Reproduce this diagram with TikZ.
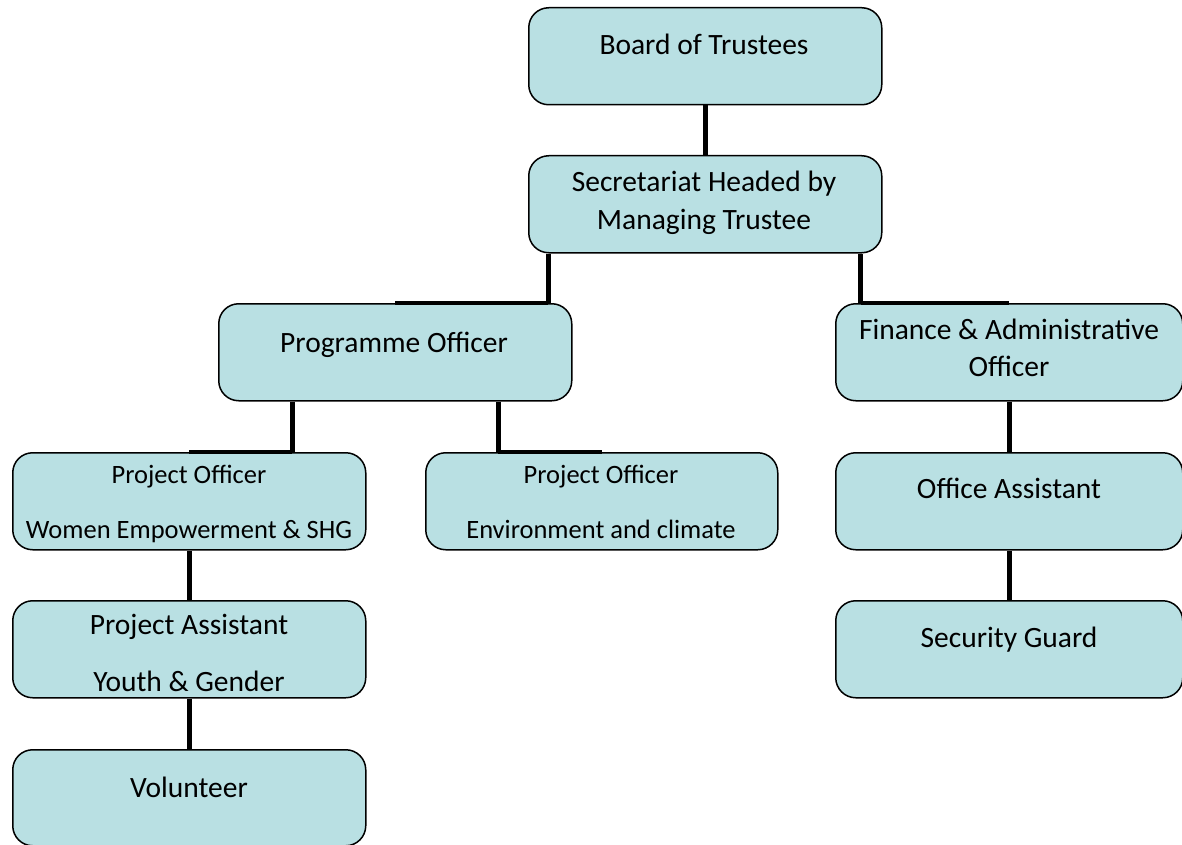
\documentclass[tikz,border=0pt]{standalone}
\usepackage{fontspec}
\setmainfont{Carlito}
\begin{document}
\begin{tikzpicture}[x=1pt,y=-1pt,
  box/.style={draw=black,line width=1.5pt,fill=boxfill,rounded corners=20pt,minimum width=353pt,minimum height=97pt,inner sep=0pt,anchor=north west},
  big/.style={font=\fontsize{29.5}{34}\selectfont,inner sep=0pt,text height=0.68em,text depth=0.2em,yshift=-7pt},
  small/.style={font=\fontsize{26.5}{31}\selectfont,inner sep=0pt,text height=0.68em,text depth=0.2em,yshift=-6pt},
  vconn/.style={line width=5pt},
  hconn/.style={line width=3.5pt}]
\definecolor{boxfill}{RGB}{185,224,227}
\useasboundingbox (0,0) rectangle (1182,845);
% boxes
\node[box] (board) at (528,7) {};
\node[box] (sec) at (528,155) {};
\node[box] (prog) at (218,303) {};
\node[box,minimum width=347pt] (fin) at (835,303) {};
\node[box] (po1) at (12,452) {};
\node[box,minimum width=352pt] (po2) at (425,452) {};
\node[box,minimum width=347pt] (office) at (835,452) {};
\node[box,minimum width=347pt] (guard) at (835,600) {};
\node[box] (pa) at (12,600) {};
\node[box,minimum height=96pt] (vol) at (12,749) {};
% texts
\node[big] (tboard) at (704,45) {Board of Trustees};
\node[big] (tsec1) at (704,182) {Secretariat Headed by};
\node[big] (tsec2) at (704,220) {Managing Trustee};
\node[big] (tprog) at (394,343) {Programme Officer};
\node[big] (tfin1) at (1009,330) {Finance \& Administrative};
\node[big] (tfin2) at (1009,367) {Officer};
\node[small] (tpo1a) at (189,475) {Project Officer};
\node[small] (tpo1b) at (189,530) {Women Empowerment \& SHG};
\node[small] (tpo2a) at (601,475) {Project Officer};
\node[small] (tpo2b) at (601,530) {Environment and climate};
\node[big] (toffice) at (1009,489) {Office Assistant};
\node[big] (tguard) at (1009,638) {Security Guard};
\node[big] (tpa1) at (189,625) {Project Assistant};
\node[big] (tpa2) at (189,682) {Youth \& Gender};
\node[big] (tvol) at (189,788) {Volunteer};
% connectors
\draw[vconn] (board.south) -- (sec.north);
\coordinate (c1) at ([xshift=20pt]sec.south west);
\coordinate (c2) at ([xshift=-22pt]sec.south east);
\draw[vconn] (c1) -- (c1 |- prog.north);
\draw[hconn] (c1 |- prog.north) -- (prog.north);
\draw[vconn] (c2) -- (c2 |- fin.north);
\draw[hconn] (c2 |- fin.north) -- (fin.north);
\coordinate (c3) at ([xshift=74pt]prog.south west);
\coordinate (c4) at ([xshift=280pt]prog.south west);
\draw[vconn] (c3) -- (c3 |- po1.north);
\draw[hconn] (c3 |- po1.north) -- (po1.north);
\draw[vconn] (c4) -- (c4 |- po2.north);
\draw[hconn] (c4 |- po2.north) -- (po2.north);
\draw[vconn] (fin.south) -- (office.north);
\draw[vconn] (office.south) -- (guard.north);
\draw[vconn] (po1.south) -- (pa.north);
\draw[vconn] (pa.south) -- (vol.north);
\end{tikzpicture}
\end{document}
